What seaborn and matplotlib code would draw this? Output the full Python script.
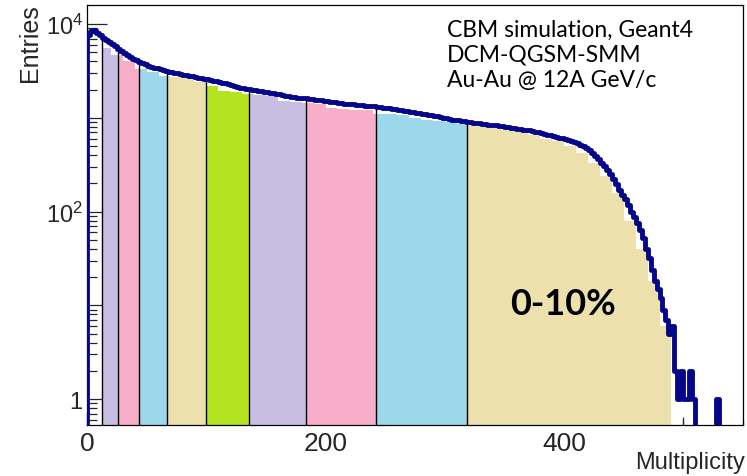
import numpy as np
import pandas as pd
import matplotlib
matplotlib.use("Agg")
import matplotlib.pyplot as plt
from matplotlib.ticker import FixedLocator, NullFormatter, LogLocator, FuncFormatter
import seaborn as sns

# ---------------- data ----------------
bin_width = 2.5
# multiplicity histogram counts, bins [0,2.5), [2.5,5), ... [547.5,550)
counts = [7600, 8500, 8600, 8100, 7600, 7200, 6800, 6450, 6100, 5800,
          5400, 5150, 4900, 4700, 4450, 4300, 4100, 3950, 3850, 3720,
          3600, 3520, 3430, 3380, 3300, 3220, 3160, 3100, 3060, 3020,
          2990, 2940, 2900, 2860, 2820, 2780, 2720, 2690, 2640, 2600,
          2580, 2540, 2500, 2460, 2420, 2380, 2350, 2300, 2250, 2200,
          2130, 2100, 2070, 2040, 2010, 1990, 1970, 1950, 1940, 1910,
          1880, 1860, 1840, 1810, 1780, 1750, 1730, 1700, 1690, 1670,
          1650, 1640, 1630, 1620, 1600, 1590, 1570, 1560, 1540, 1520,
          1500, 1490, 1470, 1460, 1440, 1435, 1420, 1415, 1400, 1390,
          1380, 1375, 1360, 1355, 1350, 1340, 1330, 1315, 1300, 1290,
          1270, 1265, 1250, 1235, 1220, 1205, 1190, 1175, 1160, 1150,
          1140, 1125, 1110, 1095, 1080, 1065, 1050, 1035, 1020, 1005,
          990, 975, 960, 950, 940, 930, 920, 910, 900, 890,
          880, 872, 865, 857, 850, 845, 840, 832, 825, 815,
          805, 795, 785, 775, 765, 757, 750, 742, 735, 725,
          715, 702, 690, 677, 665, 652, 640, 628, 615, 605,
          595, 583, 570, 555, 540, 520, 500, 475, 450, 420,
          390, 360, 330, 305, 280, 250, 225, 195, 170, 150,
          135, 118, 100, 88, 76, 63, 52, 40, 32, 24,
          18, 15, 12, 9, 7, 5, 6, 2, 1, 2,
          1, 1, 2, 1, 0, 0, 0, 0, 0, 0,
          0, 1, 0, 0, 0, 0, 0, 0, 0, 0]

# coarser histogram used for the coloured centrality fills, bins [10,20) ... [480,490)
fill_width = 10
fill_start = 10
fill_counts = [5600, 4700, 4000, 3300, 3100, 2800, 2750, 2650, 2400, 2200,
               1950, 1880, 1800, 1750, 1700, 1520, 1480, 1450, 1420, 1280,
               1250, 1220, 1200, 1100, 1090, 1080, 1000, 940, 920, 900,
               870, 820, 810, 800, 760, 700, 660, 590, 560, 500,
               420, 330, 240, 160, 80, 40, 18, 6]

# centrality class boundaries (multiplicity)
class_edges = [12.5, 26, 43.5, 67, 100, 136, 184, 242.5, 318.5, 490]
class_colors = ["#c8bee4", "#f8aec8", "#9cd8e9", "#ece0ac", "#b4e31f",
                "#c8bee4", "#f8aec8", "#9cd8e9", "#ece0ac"]

info_lines = ["CBM simulation, Geant4", "DCM-QGSM-SMM", "Au-Au @ 12A GeV/c"]
class_label = "0-10%"
x_label = "Multiplicity"
y_label = "Entries"

# ---------------- style ----------------
sns.set_theme(style="ticks")
plt.rcParams["font.family"] = ["Liberation Sans", "DejaVu Sans"]
plt.rcParams["mathtext.fontset"] = "custom"
plt.rcParams["mathtext.rm"] = "Liberation Sans"
plt.rcParams["mathtext.it"] = "Liberation Sans"

fig = plt.figure(figsize=(7.47, 4.77), dpi=100)
ax = fig.add_axes([87 / 747, 1 - 426 / 477, (743 - 87) / 747, (426 - 6) / 477])

navy = "#06068a"
ymin, ymax = 0.53, 1.6e4

# line histogram (prepend an empty bin so the left edge rises from the floor)
n = len(counts)
edges = -bin_width + np.arange(n + 2) * bin_width
heights = np.array([0] + counts, dtype=float)
centers = edges[:-1] + bin_width / 2

# coloured fills, one per centrality class
f_edges = fill_start + np.arange(len(fill_counts) + 1) * fill_width
f_counts = np.array(fill_counts, dtype=float)
for lo, hi, col in zip(class_edges[:-1], class_edges[1:], class_colors):
    inner = f_edges[(f_edges > lo) & (f_edges < hi)]
    be = np.concatenate([[lo], inner, [hi]])
    mids = (be[:-1] + be[1:]) / 2
    idx = np.clip(((mids - fill_start) // fill_width).astype(int), 0, len(f_counts) - 1)
    sns.histplot(x=mids, weights=f_counts[idx], bins=list(be), element="step",
                 fill=True, color=col, alpha=1, linewidth=0, ax=ax, zorder=1)

ax.set_yscale("log")

# black separators between classes, up to the histogram line
sep = np.array(class_edges[:-1])
sep_idx = np.searchsorted(edges, sep, side="right") - 1
ax.vlines(sep, ymin, heights[sep_idx], colors="black", linewidth=1.0, zorder=2)

sns.histplot(x=centers, weights=heights, bins=list(edges), element="step", fill=False,
             color=navy, linewidth=3.5, ax=ax, zorder=3)

ax.set_xlim(0, 550)
ax.set_ylim(ymin, ymax)
ax.set_xlabel("")
ax.set_ylabel("")

# ---------------- axes styling ----------------
for s in ax.spines.values():
    s.set_visible(True)
    s.set_linewidth(0.9)
    s.set_color("black")

ax.xaxis.set_major_locator(FixedLocator([0, 200, 400]))
ax.xaxis.set_minor_locator(FixedLocator(np.arange(0, 551, 50)))
ax.tick_params(axis="x", which="major", direction="in", length=9.5, width=0.9,
               labelsize=19, pad=4, top=False)
ax.tick_params(axis="x", which="minor", direction="in", length=3.8, width=0.9, top=False)
sec = ax.secondary_xaxis("bottom")
sec.set_xticks([100, 300, 500])
sec.tick_params(direction="in", length=6, width=0.9, labelbottom=False)
sec.spines["bottom"].set_visible(False)

ax.yaxis.set_major_locator(LogLocator(base=10, numticks=10))
ax.yaxis.set_minor_locator(LogLocator(base=10, subs=np.arange(2, 10), numticks=20))
ax.yaxis.set_minor_formatter(NullFormatter())

def ylab(v, pos):
    e = int(round(np.log10(v)))
    if e == 0:
        return "1"
    if e % 2 == 0:
        return r"$\mathregular{10^{%d}}$" % e
    return ""

ax.yaxis.set_major_formatter(FuncFormatter(ylab))
ax.tick_params(axis="y", which="major", direction="in", length=14.5, width=0.9,
               labelsize=17, pad=3, right=False)
ax.tick_params(axis="y", which="minor", direction="in", length=7, width=0.9, right=False)

fig.text(745 / 747, 1 - 469 / 477, x_label, fontsize=17, ha="right", va="baseline")
fig.text(30 / 747, 1 - 4 / 477, y_label, fontsize=18, ha="center", va="top", rotation=90)

# ---------------- annotations ----------------
txt_font = ["Lato", "DejaVu Sans"]
for i, line in enumerate(info_lines):
    fig.text(447 / 747, 1 - (36.7 + 25 * i) / 477, line, family=txt_font,
             fontsize=16.5, va="baseline", ha="left", color="black")
fig.text(510 / 747, 1 - 315 / 477, class_label, family=txt_font, fontweight="bold",
         fontsize=26, va="baseline", ha="left", color="black")

fig.savefig("out.png", dpi=100)
